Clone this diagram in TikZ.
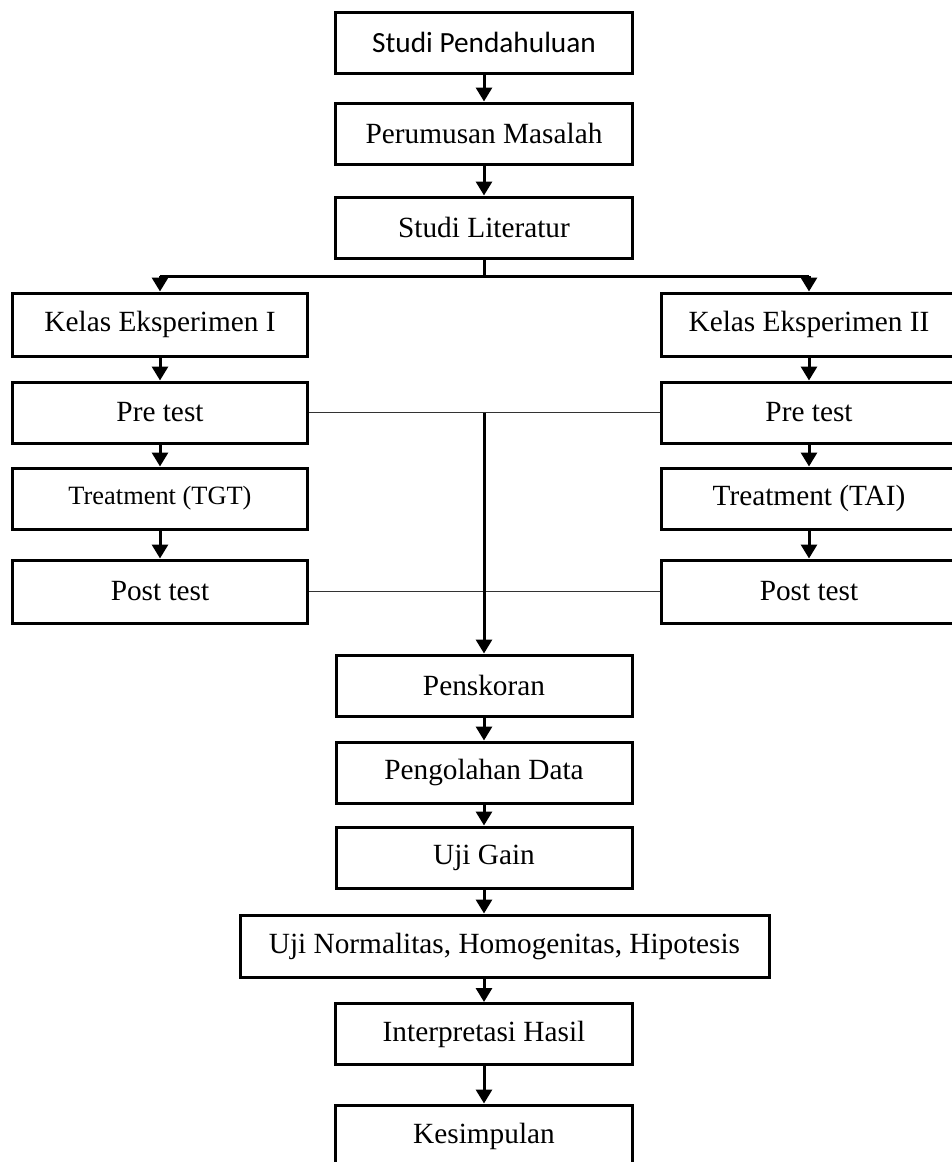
\documentclass[tikz,border=0pt]{standalone}
\usepackage{fontspec}
\setmainfont{Liberation Serif}
\newfontfamily\calfont{Carlito}
\usetikzlibrary{arrows.meta}
\tikzset{
  box/.style={draw=black, line width=3pt, inner sep=0pt, minimum height=61pt,
    font=\fontsize{29.3}{35}\selectfont, fill=white},
  mid/.style={box, minimum width=297pt},
  side/.style={box, minimum width=295pt},
  arr/.style={line width=3pt, -{Triangle[width=16pt,length=14pt]}},
  plain/.style={line width=3pt},
  thin/.style={line width=1.5pt, draw=black!80}
}
\begin{document}
\begin{tikzpicture}[x=1pt,y=-1pt]
\useasboundingbox (0,0) rectangle (952,1162);
% centre column top
\node[mid, font=\calfont\fontsize{29.3}{35}\selectfont] (sp) at (484,42.5) {Studi Pendahuluan};
\node[mid] (pm) at (484,133.5) {Perumusan Masalah};
\node[mid] (sl) at (484,227.5) {Studi Literatur};
% left column
\node[side, minimum height=63pt] (k1) at (160,324.5) {Kelas Eksperimen I};
\node[side] (p1) at (160,412.5) {Pre test};
\node[side, font=\fontsize{26.4}{32}\selectfont] (t1) at (160,498.5) {Treatment (TGT)};
\node[side, minimum height=63pt] (q1) at (160,591.5) {Post test};
% right column
\node[side, minimum height=63pt, minimum width=296pt] (k2) at (809,324.5) {Kelas Eksperimen II};
\node[side, minimum width=296pt] (p2) at (809,412.5) {Pre test};
\node[side, minimum width=296pt] (t2) at (809,498.5) {Treatment (TAI)};
\node[side, minimum height=63pt, minimum width=296pt] (q2) at (809,591.5) {Post test};
% centre column bottom
\node[mid, minimum width=296pt] (ps) at (484,685.5) {Penskoran};
\node[mid, minimum width=296pt] (pd) at (484,772.5) {Pengolahan Data};
\node[mid, minimum width=296pt] (ug) at (484,857.5) {Uji Gain};
\node[box, minimum width=529pt, minimum height=62pt] (un) at (504.5,946) {Uji Normalitas, Homogenitas, Hipotesis};
\node[mid] (ih) at (484,1034) {Interpretasi Hasil};
\node[mid, minimum height=62pt] (ks) at (484,1136) {Kesimpulan};
% coordinates
\coordinate (split) at (484,276);
\coordinate (sL) at (160,276);
\coordinate (sR) at (809,276);
\coordinate (jn) at (484,412.5);
% connectors
\draw[arr] (sp) -- (pm);
\draw[arr] (pm) -- (sl);
\draw[plain] (sl.south) -- (split);
\draw[plain] (sL) -- (sR);
\draw[arr] (sL) -- (k1.north);
\draw[arr] (sR) -- (k2.north);
\draw[arr] (k1) -- (p1);
\draw[arr] (p1) -- (t1);
\draw[arr] (t1) -- (q1);
\draw[arr] (k2) -- (p2);
\draw[arr] (p2) -- (t2);
\draw[arr] (t2) -- (q2);
\draw[thin] (p1.east) -- (p2.west);
\draw[thin] (q1.east) -- (q2.west);
\draw[arr] (jn) -- (ps.north);
\draw[arr] (ps) -- (pd);
\draw[arr] (pd) -- (ug);
\draw[arr] (ug.south) -- (ug.south |- un.north);
\draw[arr] (un.south -| ih.north) -- (ih.north);
\draw[arr] (ih) -- (ks);
\end{tikzpicture}
\end{document}
